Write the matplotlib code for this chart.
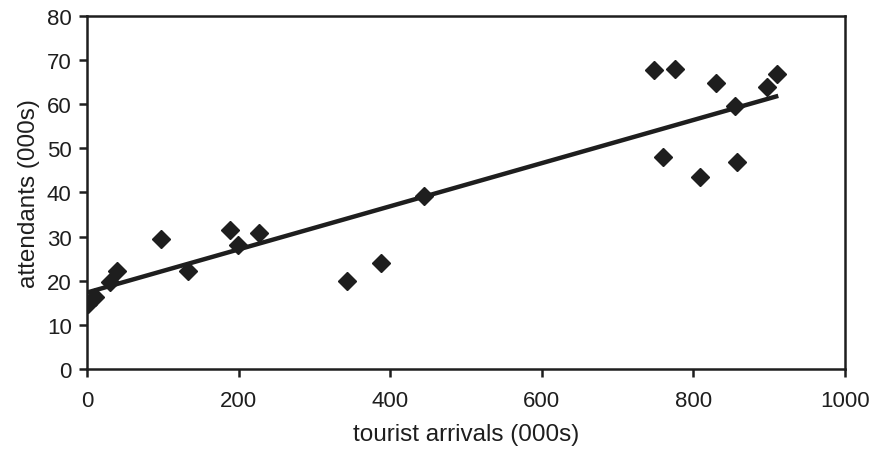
import numpy as np
import matplotlib.pyplot as plt

# tourist arrivals (000s) vs attendants (000s)
arrivals = [1, 10, 30, 40, 98, 133, 189, 199, 227, 343, 388, 445,
            748, 776, 830, 897, 910, 855, 760, 809, 858]
attendants = [14.7, 16.3, 19.7, 22.2, 29.5, 22.2, 31.5, 28.1, 30.8, 20.0, 24.0, 39.2,
              67.8, 68.0, 64.9, 63.9, 66.9, 59.6, 48.1, 43.5, 46.9]

# trend line endpoints as drawn
trend_x = [0, 912]
trend_y = [17.3, 61.9]

plt.rcParams['font.family'] = ['Liberation Sans', 'DejaVu Sans']
ink = '#1e1e1e'

fig = plt.figure(figsize=(8.72, 4.6), dpi=100)
ax = fig.add_axes([0.0998, 0.196, 0.8692, 0.767])

ax.plot(trend_x, trend_y, color=ink, lw=3.2, solid_capstyle='butt', zorder=2)
ax.plot(arrivals, attendants, linestyle='none', marker='D', ms=9.5,
        color=ink, zorder=3)

ax.set_xlim(0, 1000)
ax.set_ylim(0, 80)
ax.set_xticks(np.arange(0, 1001, 200))
ax.set_yticks(np.arange(0, 81, 10))
ax.tick_params(direction='out', length=6, width=1.8, colors=ink,
               labelsize=16, pad=5)
ax.tick_params(axis='x', pad=9)
for s in ax.spines.values():
    s.set_linewidth(1.8)
    s.set_color(ink)

ax.set_xlabel('tourist arrivals (000s)', fontsize=17.5, color=ink, labelpad=9)
ax.set_ylabel('attendants (000s)', fontsize=17.5, color=ink, labelpad=5)

fig.savefig('out.png', dpi=100)
